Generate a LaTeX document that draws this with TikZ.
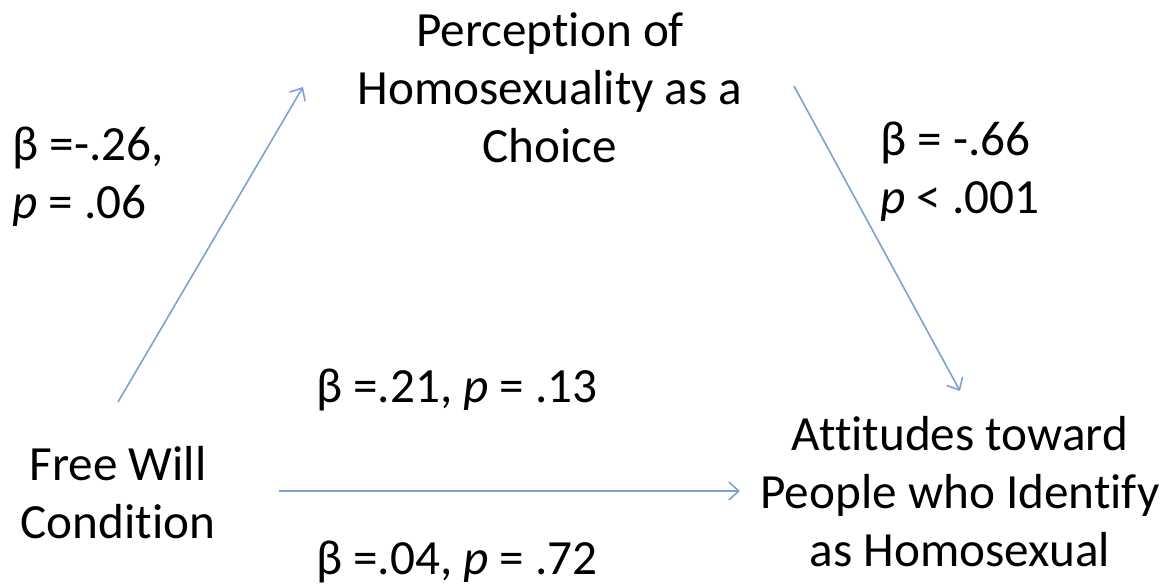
\documentclass[tikz,border=0pt]{standalone}
\usepackage{fontspec}
\setmainfont[Ligatures=NoCommon]{Carlito}
\usetikzlibrary{arrows.meta,positioning}
\definecolor{pathblue}{HTML}{7EA1D3}
\begin{document}
\begin{tikzpicture}[x=0.5pt, y=-0.5pt, >={Straight Barb[length=5pt,width=9pt]},
  lbl/.style={font=\fontsize{24.6}{29}\selectfont, inner sep=0pt, align=center},
  path/.style={->, pathblue, line width=0.8pt}]
  \useasboundingbox (0,0) rectangle (1168,587);

  % --- Variables ---
  \node[lbl] (choice) at (550,88) {Perception of\\Homosexuality as a\\Choice};
  \node[lbl] (freewill) at (118,493) {Free Will\\Condition};
  \node[lbl] (attitude) at (960,492) {Attitudes toward\\People who Identify\\as Homosexual};

  % --- Arrow end points ---
  \coordinate (a1) at (118,402);
  \coordinate (a2) at (303,87);
  \coordinate (b1) at (794,86);
  \coordinate (b2) at (960,391);
  \coordinate (c1) at (279,491);
  \coordinate (c2) at (740,491);

  \draw[path] (a1) -- (a2);
  \draw[path] (b1) -- (b2);
  \draw[path] (c1) -- (c2);

  % --- Coefficients ---
  \node[lbl, align=left, anchor=west] (coefa) at (12,177) {β =-.26,\\\textit{p} = .06};
  \node[lbl, align=left, anchor=west] (coefb) at (880,172) {β = -.66\\\textit{p} < .001};
  \node[lbl] (total) at (457,390) {β =.21, \textit{p} = .13};
  \node[lbl] (direct) at (457,562) {β =.04, \textit{p} = .72};
\end{tikzpicture}
\end{document}
